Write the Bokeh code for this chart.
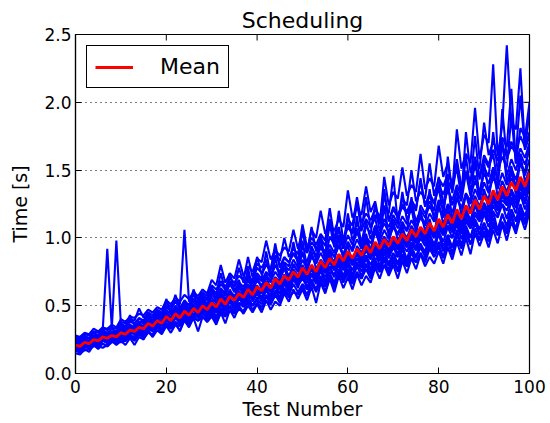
import math
from bokeh.plotting import figure
from bokeh.models import FixedTicker, Range1d, Legend, LegendItem
from bokeh.embed import file_html
from bokeh.resources import INLINE

test_number = list(range(101))

mean = [0.21,0.20,0.23,0.22,0.25,0.24,0.27,0.26,0.28,0.27,
0.30,0.29,0.32,0.31,0.34,0.33,0.37,0.35,0.39,0.37,
0.42,0.39,0.44,0.41,0.46,0.43,0.48,0.45,0.50,0.47,
0.52,0.49,0.55,0.51,0.57,0.54,0.59,0.56,0.62,0.58,
0.64,0.61,0.67,0.63,0.70,0.66,0.72,0.69,0.75,0.71,
0.78,0.73,0.80,0.75,0.83,0.78,0.85,0.80,0.88,0.83,
0.90,0.85,0.92,0.87,0.94,0.89,0.97,0.92,0.99,0.94,
1.01,0.96,1.03,0.98,1.06,1.01,1.08,1.03,1.11,1.05,
1.14,1.08,1.17,1.11,1.21,1.14,1.24,1.18,1.28,1.21,
1.31,1.25,1.35,1.28,1.38,1.31,1.41,1.35,1.45,1.38,1.48]

s1 = [0.15,0.14,0.18,0.16,0.21,0.18,0.22,0.20,0.24,0.21,
0.24,0.21,0.26,0.21,0.27,0.25,0.31,0.27,0.32,0.29,
0.35,0.30,0.36,0.32,0.39,0.34,0.41,0.31,0.42,0.38,
0.42,0.36,0.45,0.37,0.47,0.41,0.49,0.44,0.50,0.45,
0.51,0.45,0.54,0.47,0.53,0.50,0.59,0.53,0.62,0.55,
0.62,0.54,0.64,0.52,0.67,0.59,0.70,0.60,0.72,0.63,
0.71,0.62,0.73,0.65,0.72,0.67,0.78,0.70,0.80,0.72,
0.80,0.70,0.83,0.74,0.85,0.77,0.88,0.79,0.86,0.81,
0.90,0.81,0.93,0.84,0.97,0.87,1.00,0.88,1.04,0.94,
1.03,0.93,1.06,0.96,1.10,0.98,1.12,1.03,1.16,1.06,1.19]

s2 = [0.18,0.17,0.19,0.19,0.22,0.20,0.19,0.21,0.25,0.24,
0.25,0.24,0.28,0.25,0.29,0.27,0.32,0.27,0.35,0.31,
0.37,0.33,0.38,0.31,0.40,0.37,0.41,0.39,0.45,0.40,
0.44,0.39,0.46,0.43,0.49,0.44,0.47,0.46,0.53,0.50,
0.54,0.46,0.57,0.51,0.58,0.55,0.62,0.56,0.60,0.58,
0.65,0.58,0.67,0.60,0.70,0.60,0.72,0.65,0.75,0.67,
0.75,0.68,0.74,0.70,0.80,0.72,0.82,0.75,0.84,0.74,
0.84,0.77,0.87,0.79,0.89,0.82,0.88,0.84,0.94,0.86,
0.95,0.86,0.98,0.87,1.02,0.93,1.05,0.96,1.03,1.00,
1.08,1.00,1.12,1.02,1.11,1.06,1.18,1.05,1.22,1.12,1.25]

s3 = [0.21,0.18,0.22,0.20,0.23,0.22,0.27,0.24,0.28,0.25,
0.29,0.26,0.34,0.28,0.33,0.30,0.34,0.33,0.38,0.31,
0.40,0.35,0.42,0.37,0.44,0.39,0.50,0.41,0.48,0.43,
0.49,0.41,0.52,0.46,0.54,0.48,0.56,0.50,0.63,0.53,
0.59,0.53,0.62,0.56,0.65,0.54,0.67,0.61,0.70,0.63,
0.75,0.63,0.73,0.66,0.76,0.68,0.78,0.71,0.81,0.70,
0.80,0.72,0.82,0.75,0.85,0.76,0.91,0.79,0.89,0.81,
0.89,0.81,0.92,0.80,0.94,0.86,0.96,0.88,0.99,0.90,
1.04,0.90,1.02,0.93,1.06,0.92,1.09,1.00,1.13,1.03,
1.11,1.02,1.20,1.05,1.18,1.08,1.21,1.12,1.25,1.10,1.28]

s4 = [0.19,0.16,0.21,0.20,0.22,0.23,0.25,0.22,0.26,0.25,
0.27,0.27,0.29,0.26,0.32,0.29,0.33,0.33,0.35,0.32,
0.36,0.36,0.41,0.38,0.43,0.37,0.44,0.43,0.45,0.41,
0.47,0.42,0.48,0.46,0.53,0.47,0.52,0.51,0.57,0.50,
0.56,0.55,0.62,0.54,0.61,0.60,0.66,0.60,0.69,0.65,
0.70,0.64,0.69,0.68,0.76,0.67,0.75,0.73,0.80,0.72,
0.82,0.73,0.80,0.79,0.86,0.76,0.85,0.83,0.90,0.80,
0.88,0.86,0.94,0.84,0.96,0.91,0.95,0.90,1.02,0.93,
1.03,0.94,1.02,1.00,1.10,0.99,1.12,1.07,1.14,1.06,
1.18,1.08,1.19,1.15,1.25,1.14,1.27,1.18,1.32,1.21,1.31]

s5 = [0.20,0.19,0.20,0.21,0.24,0.21,0.26,0.24,0.27,0.26,
0.29,0.28,0.30,0.30,0.31,0.32,0.36,0.32,0.36,0.36,
0.40,0.37,0.40,0.40,0.45,0.39,0.47,0.42,0.46,0.45,
0.50,0.45,0.51,0.49,0.55,0.49,0.56,0.54,0.58,0.55,
0.61,0.56,0.64,0.60,0.65,0.63,0.69,0.64,0.73,0.66,
0.72,0.69,0.77,0.69,0.79,0.74,0.79,0.77,0.84,0.76,
0.85,0.80,0.88,0.80,0.87,0.85,0.92,0.84,0.95,0.87,
0.95,0.88,0.97,0.93,1.00,0.93,1.03,0.95,1.05,1.00,
1.07,1.02,1.09,1.04,1.15,1.05,1.17,1.12,1.19,1.14,
1.23,1.15,1.27,1.20,1.28,1.24,1.33,1.25,1.38,1.27,1.40]

s6 = [0.21,0.20,0.22,0.22,0.25,0.24,0.26,0.26,0.28,0.27,
0.29,0.29,0.32,0.30,0.37,0.32,0.36,0.35,0.39,0.36,
0.41,0.38,0.48,0.40,0.45,0.43,0.47,0.44,0.49,0.46,
0.51,0.48,0.53,0.50,0.62,0.52,0.58,0.55,0.61,0.57,
0.62,0.60,0.72,0.61,0.69,0.64,0.70,0.63,0.74,0.69,
0.77,0.71,0.78,0.74,0.81,0.76,0.91,0.78,0.86,0.82,
0.88,0.83,0.90,0.85,1.00,0.86,0.95,0.90,0.97,0.87,
0.99,0.93,1.09,0.96,1.04,0.98,1.06,1.01,1.09,1.03,
1.12,1.05,1.24,1.09,1.19,1.11,1.21,1.09,1.26,1.18,
1.36,1.21,1.33,1.25,1.35,1.28,1.50,1.32,1.42,1.35,1.45]

s7 = [0.22,0.21,0.24,0.22,0.26,0.25,0.28,0.26,0.29,0.28,
0.34,0.29,0.33,0.32,0.35,0.34,0.38,0.35,0.44,0.38,
0.43,0.40,0.45,0.42,0.47,0.43,0.49,0.46,0.56,0.48,
0.53,0.50,0.57,0.47,0.58,0.55,0.66,0.57,0.64,0.59,
0.72,0.62,0.68,0.64,0.71,0.68,0.82,0.70,0.77,0.72,
0.80,0.74,0.90,0.77,0.84,0.80,0.87,0.82,1.00,0.84,
0.95,0.80,0.94,0.89,0.97,0.90,1.08,0.94,1.01,0.96,
1.12,0.98,1.05,1.00,1.09,1.03,1.20,1.05,1.14,1.00,
1.26,1.10,1.20,1.13,1.36,1.16,1.32,1.20,1.31,1.23,
1.34,1.28,1.52,1.30,1.42,1.34,1.44,1.38,1.62,1.41,1.51]

s8 = [0.23,0.22,0.25,0.24,0.27,0.26,0.29,0.27,0.30,0.29,
0.32,0.31,0.35,0.33,0.37,0.35,0.45,0.37,0.41,0.39,
0.45,0.38,0.47,0.43,0.50,0.45,0.60,0.47,0.53,0.50,
0.64,0.52,0.60,0.54,0.61,0.57,0.63,0.60,0.78,0.62,
0.69,0.65,0.73,0.67,0.86,0.70,0.78,0.67,0.81,0.75,
0.98,0.78,0.87,0.81,1.02,0.83,0.92,0.86,0.95,0.88,
0.97,0.91,1.16,0.94,1.03,0.90,1.05,0.98,1.24,1.01,
1.09,1.03,1.12,1.05,1.30,1.08,1.17,1.10,1.36,1.12,
1.23,1.16,1.45,1.10,1.30,1.22,1.33,1.27,1.60,1.29,
1.55,1.34,1.46,1.38,1.72,1.41,1.53,1.36,1.56,1.48,1.70]

s9 = [0.25,0.23,0.26,0.26,0.28,0.27,0.31,0.29,0.31,0.31,
0.35,0.33,0.43,0.35,0.38,0.38,0.42,0.39,0.44,0.41,
0.55,0.44,0.50,0.46,0.52,0.48,0.55,0.50,0.56,0.47,
0.60,0.56,0.63,0.59,0.74,0.61,0.67,0.64,0.70,0.66,
0.74,0.70,0.90,0.72,0.80,0.75,0.82,0.79,0.97,0.80,
0.90,0.76,0.93,0.87,0.95,0.89,1.10,0.93,1.01,0.95,
1.18,0.98,1.07,0.92,1.09,1.03,1.25,1.05,1.14,1.08,
1.17,1.10,1.34,1.13,1.22,1.04,1.24,1.18,1.27,1.20,
1.45,1.25,1.35,1.28,1.39,1.31,1.60,1.35,1.46,1.28,
1.52,1.45,1.78,1.49,1.60,1.52,1.90,1.55,1.66,1.59,1.70]

s10 = [0.26,0.24,0.27,0.26,0.30,0.28,0.32,0.92,0.33,0.98,
0.36,0.34,0.38,0.37,0.40,0.39,0.43,0.41,0.45,0.43,
0.49,0.46,0.58,0.48,0.53,0.50,0.55,0.52,0.58,0.54,
0.62,0.58,0.74,0.61,0.67,0.64,0.69,0.58,0.72,0.68,
0.86,0.73,0.80,0.76,0.96,0.78,0.85,0.82,0.88,0.83,
0.93,0.89,1.08,0.90,0.98,0.84,1.01,0.95,1.20,0.98,
1.08,1.03,1.10,1.05,1.30,1.07,1.15,0.98,1.36,1.12,
1.21,1.15,1.23,1.18,1.26,1.20,1.44,1.23,1.31,1.25,
1.37,1.18,1.60,1.33,1.55,1.36,1.47,1.40,1.75,1.43,
1.58,1.52,1.62,1.40,1.95,1.58,1.68,1.62,2.05,1.65,1.75]

s11 = [0.27,0.26,0.29,0.28,0.31,0.30,0.33,0.32,0.34,0.33,
0.38,0.37,0.40,0.39,0.48,0.41,0.45,0.43,0.47,0.45,
0.52,0.49,0.54,0.51,1.06,0.53,0.58,0.55,0.60,0.57,
0.65,0.62,0.68,0.64,0.70,0.67,0.72,0.69,0.86,0.71,
0.81,0.78,0.84,0.70,0.87,0.83,1.00,0.86,0.92,0.88,
1.10,0.93,1.00,0.95,1.03,0.98,1.22,1.00,1.08,0.92,
1.14,1.09,1.30,1.11,1.18,1.13,1.21,1.16,1.23,1.18,
1.46,1.10,1.29,1.24,1.50,1.27,1.34,1.29,1.55,1.31,
1.44,1.38,1.47,1.41,1.51,1.30,1.78,1.48,1.58,1.51,
1.85,1.61,1.71,1.64,1.74,1.67,2.10,1.55,1.81,1.74,2.00]

s12 = [0.28,0.27,0.30,0.29,0.33,0.31,0.34,0.33,0.36,0.34,
0.40,0.38,0.42,0.41,0.44,0.43,0.47,0.45,0.49,0.47,
0.54,0.51,0.56,0.53,0.58,0.55,0.60,0.57,0.62,0.59,
0.69,0.65,0.80,0.67,0.74,0.70,0.84,0.72,0.79,0.75,
0.85,0.82,0.98,0.84,0.91,0.87,0.93,0.90,1.06,0.92,
1.04,0.90,1.06,1.00,1.20,1.03,1.11,1.05,1.14,1.08,
1.35,1.15,1.22,1.17,1.38,1.19,1.27,1.10,1.45,1.24,
1.34,1.29,1.52,1.31,1.39,1.34,1.62,1.36,1.44,1.38,
1.68,1.45,1.55,1.35,1.80,1.51,1.62,1.55,1.96,1.58,
1.76,1.70,2.28,1.60,1.83,2.42,1.86,1.80,2.25,1.65,1.93]

t1 = [0.17,0.15,0.17,0.18,0.20,0.21,0.22,0.20,0.23,0.23,
0.23,0.24,0.27,0.24,0.29,0.26,0.30,0.29,0.34,0.30,
0.36,0.33,0.36,0.35,0.40,0.35,0.42,0.39,0.41,0.40,
0.44,0.38,0.44,0.42,0.46,0.45,0.50,0.45,0.53,0.47,
0.52,0.49,0.53,0.51,0.58,0.52,0.60,0.57,0.60,0.59,
0.64,0.57,0.66,0.61,0.67,0.64,0.71,0.63,0.74,0.69,
0.73,0.66,0.75,0.70,0.77,0.70,0.80,0.75,0.80,0.77,
0.82,0.75,0.84,0.79,0.85,0.82,0.89,0.82,0.92,0.86,
0.93,0.85,0.96,0.90,0.98,0.93,1.03,0.95,1.07,0.98,
1.05,0.97,1.09,1.02,1.12,1.03,1.15,1.07,1.19,1.10,1.22]

t2 = [0.18,0.16,0.20,0.19,0.21,0.19,0.24,0.23,0.25,0.22,
0.26,0.25,0.27,0.27,0.30,0.28,0.33,0.31,0.34,0.33,
0.37,0.34,0.38,0.36,0.41,0.38,0.43,0.39,0.44,0.42,
0.45,0.40,0.48,0.44,0.50,0.45,0.52,0.49,0.55,0.50,
0.55,0.51,0.58,0.53,0.60,0.57,0.63,0.58,0.66,0.60,
0.66,0.62,0.69,0.62,0.72,0.65,0.74,0.67,0.77,0.70,
0.77,0.70,0.79,0.72,0.81,0.74,0.84,0.77,0.86,0.79,
0.86,0.80,0.88,0.82,0.91,0.85,0.93,0.86,0.96,0.89,
0.97,0.91,0.99,0.93,1.04,0.95,1.07,1.00,1.11,1.02,
1.11,1.03,1.15,1.06,1.17,1.09,1.21,1.13,1.24,1.16,1.28]

t3 = [0.19,0.18,0.22,0.19,0.24,0.22,0.24,0.25,0.27,0.24,
0.28,0.26,0.30,0.29,0.30,0.31,0.35,0.32,0.37,0.33,
0.39,0.37,0.42,0.37,0.43,0.41,0.44,0.42,0.48,0.43,
0.48,0.45,0.50,0.47,0.54,0.49,0.55,0.52,0.57,0.55,
0.60,0.55,0.61,0.58,0.66,0.59,0.67,0.62,0.70,0.66,
0.70,0.67,0.74,0.67,0.77,0.71,0.79,0.72,0.82,0.77,
0.83,0.76,0.85,0.78,0.87,0.80,0.88,0.85,0.92,0.85,
0.93,0.86,0.95,0.90,0.97,0.91,1.00,0.94,1.03,0.95,
1.05,0.97,1.08,1.00,1.12,1.03,1.15,1.07,1.17,1.12,
1.20,1.12,1.24,1.17,1.25,1.20,1.30,1.22,1.34,1.25,1.37]

t4 = [0.20,0.19,0.23,0.20,0.24,0.24,0.26,0.24,0.28,0.26,
0.29,0.27,0.31,0.30,0.33,0.31,0.35,0.34,0.38,0.35,
0.41,0.37,0.43,0.39,0.45,0.40,0.47,0.43,0.49,0.44,
0.51,0.46,0.53,0.49,0.55,0.51,0.57,0.54,0.61,0.55,
0.61,0.59,0.65,0.60,0.68,0.62,0.70,0.65,0.73,0.68,
0.75,0.69,0.78,0.71,0.80,0.75,0.82,0.76,0.85,0.79,
0.87,0.80,0.89,0.82,0.91,0.84,0.94,0.87,0.96,0.89,
0.97,0.91,0.99,0.94,1.02,0.96,1.04,0.98,1.07,1.00,
1.10,1.02,1.13,1.05,1.17,1.08,1.20,1.12,1.24,1.15,
1.26,1.18,1.30,1.21,1.33,1.24,1.36,1.28,1.40,1.31,1.43]

t5 = [0.23,0.21,0.25,0.23,0.27,0.25,0.29,0.27,0.30,0.28,
0.32,0.30,0.34,0.32,0.36,0.34,0.39,0.36,0.41,0.38,
0.44,0.40,0.46,0.43,0.48,0.44,0.50,0.47,0.52,0.48,
0.54,0.49,0.57,0.52,0.59,0.54,0.61,0.56,0.64,0.58,
0.65,0.60,0.68,0.62,0.71,0.65,0.73,0.68,0.76,0.70,
0.78,0.71,0.80,0.73,0.83,0.76,0.85,0.78,0.88,0.81,
0.89,0.82,0.91,0.84,0.93,0.86,0.96,0.89,0.98,0.91,
0.99,0.92,1.01,0.94,1.04,0.97,1.06,0.99,1.09,1.01,
1.11,1.03,1.14,1.06,1.18,1.09,1.21,1.13,1.25,1.16,
1.24,1.20,1.28,1.23,1.31,1.26,1.34,1.30,1.38,1.33,1.41]

t6 = [0.22,0.22,0.24,0.24,0.26,0.26,0.28,0.28,0.29,0.29,
0.33,0.30,0.35,0.33,0.37,0.34,0.40,0.36,0.42,0.38,
0.45,0.41,0.47,0.43,0.49,0.46,0.51,0.46,0.53,0.50,
0.56,0.52,0.59,0.55,0.61,0.56,0.63,0.60,0.66,0.61,
0.69,0.64,0.72,0.68,0.75,0.70,0.77,0.72,0.80,0.75,
0.84,0.77,0.86,0.81,0.89,0.82,0.91,0.86,0.94,0.87,
0.97,0.90,0.99,0.92,1.01,0.96,1.04,0.97,1.06,0.99,
1.08,1.02,1.10,1.05,1.13,1.07,1.15,1.09,1.18,1.12,
1.22,1.15,1.25,1.19,1.29,1.21,1.32,1.25,1.36,1.28,
1.41,1.33,1.45,1.36,1.48,1.39,1.51,1.43,1.55,1.46,1.58]

t7 = [0.24,0.23,0.26,0.24,0.28,0.27,0.30,0.28,0.31,0.30,
0.34,0.32,0.36,0.34,0.38,0.37,0.41,0.38,0.43,0.40,
0.47,0.43,0.49,0.45,0.51,0.47,0.53,0.49,0.57,0.51,
0.58,0.55,0.62,0.57,0.66,0.60,0.65,0.62,0.69,0.63,
0.72,0.68,0.75,0.71,0.80,0.73,0.80,0.76,0.84,0.78,
0.88,0.82,0.94,0.84,0.93,0.87,0.95,0.89,1.02,0.92,
1.02,0.95,1.04,0.97,1.12,0.99,1.09,1.02,1.11,1.04,
1.14,1.07,1.16,1.10,1.26,1.12,1.21,1.15,1.24,1.16,
1.28,1.21,1.38,1.24,1.35,1.27,1.48,1.31,1.42,1.34,
1.48,1.40,1.52,1.44,1.70,1.46,1.58,1.50,1.62,1.54,1.65]

t8 = [0.26,0.25,0.28,0.26,0.30,0.28,0.32,0.30,0.33,0.31,
0.37,0.35,0.39,0.37,0.41,0.39,0.44,0.41,0.46,0.43,
0.50,0.47,0.53,0.48,0.54,0.50,0.62,0.53,0.58,0.55,
0.63,0.59,0.66,0.62,0.68,0.64,0.78,0.67,0.73,0.68,
0.78,0.74,0.81,0.77,0.92,0.79,0.86,0.82,0.89,0.84,
1.05,0.89,0.97,0.92,1.00,0.94,1.14,0.96,1.05,0.99,
1.10,1.04,1.26,1.06,1.14,1.08,1.17,1.11,1.32,1.13,
1.23,1.17,1.25,1.19,1.28,1.22,1.42,1.24,1.33,1.26,
1.39,1.32,1.42,1.35,1.58,1.38,1.49,1.42,1.53,1.45,
1.61,1.54,1.65,1.57,1.68,1.60,1.71,1.64,1.75,1.67,1.78]

runs = [s1, t1, s2, t2, s3, s4, t3, s5, t4, s6, t5, s7,
        t6, s8, t7, s9, t8, s10, s11, s12]

x_ticks = [0, 20, 40, 60, 80, 100]
y_ticks = [0.0, 0.5, 1.0, 1.5, 2.0, 2.5]
y_tick_labels = ["0.0", "0.5", "1.0", "1.5", "2.0", "2.5"]
x_min, x_max = 0, 100
y_min, y_max = 0.0, 2.5

FONT = "DejaVu Sans"

p = figure(width=550, height=423, output_backend="svg", toolbar_location=None,
           x_range=Range1d(x_min, x_max), y_range=Range1d(y_min, y_max),
           title="Scheduling",
           min_border_left=75, min_border_right=21,
           min_border_top=34, min_border_bottom=50)

p.title.text_font = FONT
p.title.text_font_size = "22px"
p.title.text_font_style = "normal"
p.title.text_color = "black"
p.title.align = "center"
p.title.standoff = 3
p.title.offset = 0

p.outline_line_color = "black"
p.outline_line_width = 1.2
p.outline_line_alpha = 1.0

for r in runs:
    p.line(test_number, r, line_color="#0000ff", line_width=2.1)

mean_r = p.line(test_number, mean, line_color="#ff0000", line_width=2.8)

# inward ticks on the top and right edges
p.ray(x=x_ticks, y=[y_max] * len(x_ticks), length=6, length_units="screen",
      angle=-math.pi / 2, line_color="black", line_width=1)
p.ray(x=[x_max] * len(y_ticks), y=y_ticks, length=6, length_units="screen",
      angle=math.pi, line_color="black", line_width=1)

xt = FixedTicker(ticks=x_ticks, minor_ticks=[])
yt = FixedTicker(ticks=y_ticks, minor_ticks=[])

for ax in (p.xaxis[0], p.yaxis[0]):
    ax.major_tick_in = 6
    ax.major_tick_out = 0
    ax.minor_tick_in = 0
    ax.minor_tick_out = 0
    ax.major_tick_line_color = "black"
    ax.axis_line_color = "black"
    ax.axis_line_width = 1.2
    ax.major_label_text_font = FONT
    ax.major_label_text_font_size = "17px"
    ax.major_label_text_color = "black"
    ax.axis_label_text_font = FONT
    ax.axis_label_text_font_size = "19px"
    ax.axis_label_text_font_style = "normal"
    ax.axis_label_text_color = "black"

p.xaxis.ticker = xt
p.yaxis.ticker = yt
p.yaxis.major_label_overrides = {t: l for t, l in zip(y_ticks, y_tick_labels)}
p.xaxis.axis_label = "Test Number"
p.yaxis.axis_label = "Time [s]"
p.xaxis.major_label_standoff = 6
p.xaxis.axis_label_standoff = 2
p.yaxis.major_label_standoff = 4
p.yaxis.axis_label_standoff = 10

p.xgrid.visible = False
p.ygrid.ticker = yt
p.ygrid.grid_line_color = "black"
p.ygrid.grid_line_dash = "1 4"
p.ygrid.grid_line_width = 1
p.ygrid.grid_line_alpha = 1.0

legend = Legend(items=[LegendItem(label="Mean", renderers=[mean_r])],
                location="top_left")
legend.margin = 11
legend.padding = 8
legend.glyph_width = 38
legend.glyph_height = 24
legend.label_standoff = 27
legend.label_text_font = FONT
legend.label_text_font_size = "22px"
legend.label_text_color = "black"
legend.border_line_color = "black"
legend.border_line_width = 1.2
legend.border_line_alpha = 1.0
legend.background_fill_alpha = 1.0
p.add_layout(legend)

open("out.html", "w").write(file_html(p, INLINE))
